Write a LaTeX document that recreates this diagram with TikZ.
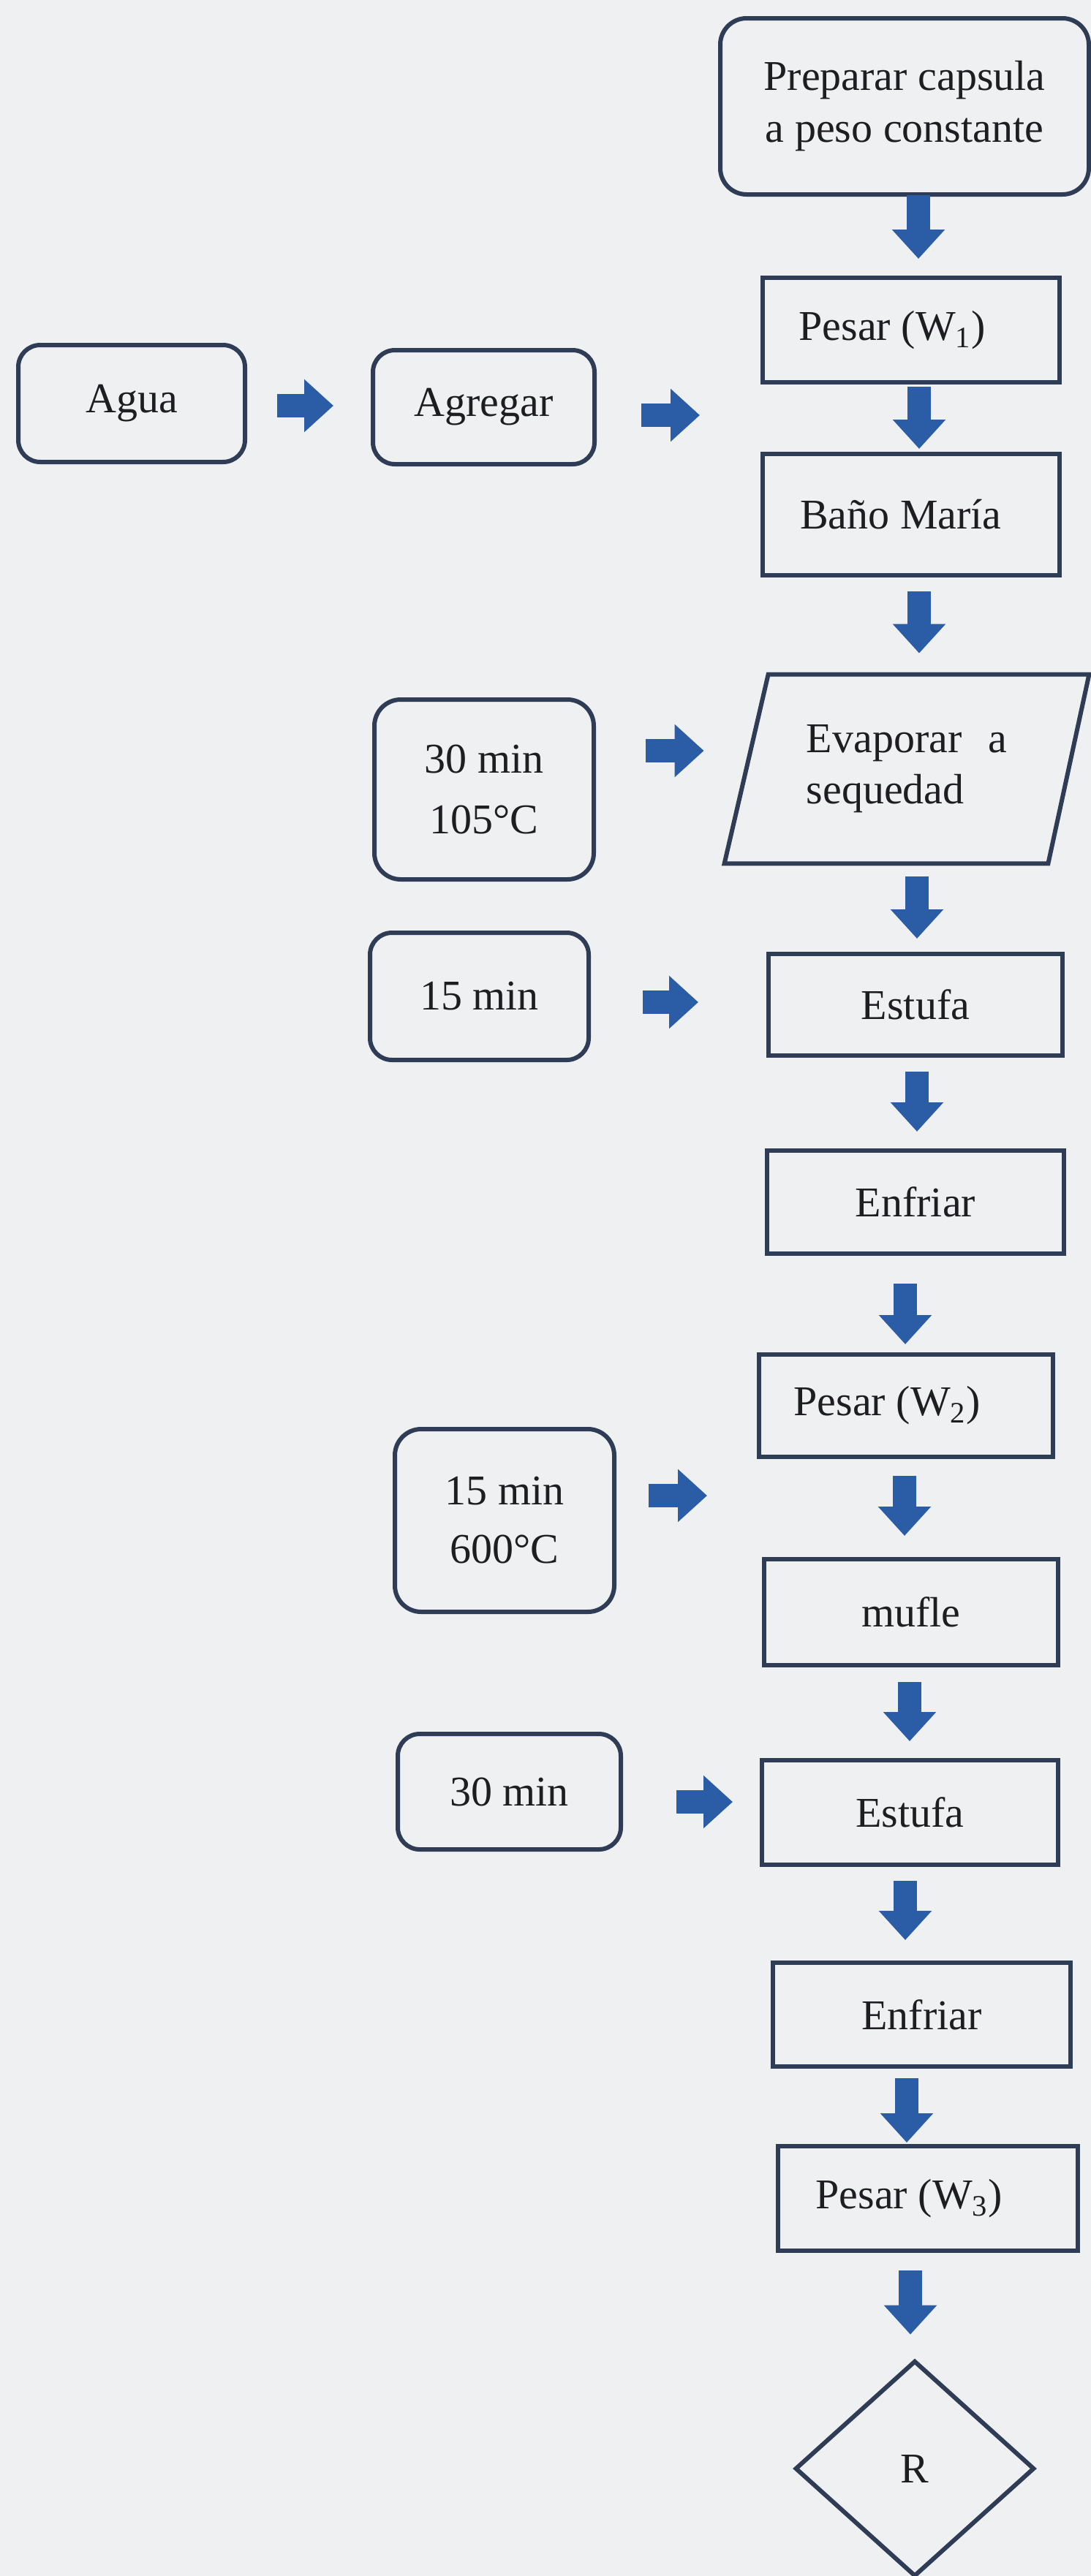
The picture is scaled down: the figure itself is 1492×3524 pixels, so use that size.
\documentclass[tikz,border=0pt]{standalone}
\usepackage{fontspec}
\setmainfont{Liberation Serif}
\usetikzlibrary{arrows.meta,calc}
\definecolor{bgc}{HTML}{EFF0F2}
\definecolor{edgec}{HTML}{2F3C55}
\definecolor{ablue}{HTML}{2B5CA6}
\definecolor{txtc}{HTML}{1E1E22}
\begin{document}
\begin{tikzpicture}[x=0.5pt,y=-0.5pt,
  every node/.style={font=\fontsize{29pt}{36pt}\selectfont, text=txtc},
  box/.style={draw=edgec, line width=3pt, inner sep=0pt, align=center},
  rbox/.style={box, rounded corners=15pt},
  ghost/.style={draw=none, inner sep=0pt, align=center},
  barrow/.style={draw=ablue, line width=16pt, -{Triangle[length=20pt 0, width=35pt 0]}}]
\fill[bgc] (0,0) rectangle (1492,3524);
\useasboundingbox (0,0) rectangle (1492,3524);

% right column
\node[rbox, rounded corners=18pt, minimum width=252pt, minimum height=120.5pt, font=\fontsize{29pt}{35.5pt}\selectfont] (prep) at (1237,145.5) {Preparar capsula\\a peso constante};
\node[box, minimum width=203pt, minimum height=71.5pt] (pes1) at (1246,451.5) {Pesar (W\textsubscript{1})\hspace*{26pt}};
\node[box, minimum width=203pt, minimum height=83pt] (bano) at (1246,704) {Baño María\hspace*{14pt}};
\node[ghost, minimum width=249pt, minimum height=129pt, align=left, font=\fontsize{29pt}{35pt}\selectfont] (evap) at (1240,1052) {Evaporar\hspace{0.37em} a\\sequedad};
\draw[draw=edgec, line width=3pt, line join=miter] ($(evap.north west)+(60,0)$) -- (evap.north east) -- ($(evap.south east)+(-56,0)$) -- (evap.south west) -- cycle;
\node[box, minimum width=201pt, minimum height=69.5pt] (est1) at (1252,1374.5) {Estufa};
\node[box, minimum width=203pt, minimum height=70.5pt] (enf1) at (1252,1644.5) {Enfriar};
\node[box, minimum width=201pt, minimum height=70pt] (pes2) at (1239,1923) {Pesar (W\textsubscript{2})\hspace*{26pt}};
\node[box, minimum width=201pt, minimum height=72.5pt] (mufle) at (1246,2205.5) {mufle};
\node[box, minimum width=202.5pt, minimum height=71.5pt] (est2) at (1244.5,2479.5) {Estufa};
\node[box, minimum width=203.5pt, minimum height=71pt] (enf2) at (1260.5,2756) {Enfriar};
\node[box, minimum width=205pt, minimum height=71.5pt] (pes3) at (1269,3007.5) {Pesar (W\textsubscript{3})\hspace*{26pt}};
\node[ghost, minimum width=162pt, minimum height=146pt] (R) at (1251,3377) {R};
\draw[draw=edgec, line width=3pt, line join=miter] (R.north) -- (R.east) -- (R.south) -- (R.west) -- cycle;

% left column
\node[rbox, minimum width=155pt, minimum height=80pt] (agua) at (180,552) {Agua};
\node[rbox, minimum width=151.5pt, minimum height=78pt] (agre) at (661.5,557) {Agregar};
\node[rbox, rounded corners=18pt, minimum width=150pt, minimum height=123pt, font=\fontsize{29pt}{41.5pt}\selectfont] (t30a) at (662,1080) {30 min\\105°C};
\node[rbox, minimum width=149.5pt, minimum height=87pt] (t15a) at (655.5,1363) {15 min};
\node[rbox, rounded corners=18pt, minimum width=150pt, minimum height=125pt, font=\fontsize{29pt}{40pt}\selectfont] (t15b) at (690,2080) {15 min\\600°C};
\node[rbox, minimum width=152.5pt, minimum height=79pt] (t30b) at (696.5,2451) {30 min};

\coordinate (gap1) at (957,568);
\coordinate (gap2) at (967,2046);

% down arrows
\draw[barrow] ($(prep.south)+(19,-2)$) -- ($(pes1.north)+(10,-23)$);
\draw[barrow] ($(pes1.south)+(11,3)$) -- ($(bano.north)+(11,-4)$);
\draw[barrow] ($(bano.south)+(11,19)$) -- ($(evap.north)+(17,-29)$);
\draw[barrow] ($(evap.south)+(14,18)$) -- ($(est1.north)+(2,-18)$);
\draw[barrow] ($(est1.south)+(2,19)$) -- ($(enf1.north)+(2,-23)$);
\draw[barrow] ($(enf1.south)+(-14,38)$) -- ($(pes2.north)+(-1,-11)$);
\draw[barrow] ($(pes2.south)+(-2,23)$) -- ($(mufle.north)+(-9,-29)$);
\draw[barrow] ($(mufle.south)+(-2,20)$) -- ($(est2.north)+(-0.5,-23)$);
\draw[barrow] ($(est2.south)+(-6.5,19)$) -- ($(enf2.north)+(-22.5,-28)$);
\draw[barrow] ($(enf2.south)+(-20.5,13)$) -- ($(pes3.north)+(-29,-2)$);
\draw[barrow] ($(pes3.south)+(-24,24)$) -- ($(R.north)+(-6,-37)$);

% right arrows
\draw[barrow] ($(agua.east)+(41,3)$) -- ($(agre.west)+(-51,-2)$);
\draw[barrow] ($(agre.east)+(61,11)$) -- (gap1);
\draw[barrow] ($(t30a.east)+(68,-53)$) -- ($(evap.west)+(-28,-25)$);
\draw[barrow] ($(t15a.east)+(71,8)$) -- ($(est1.west)+(-93,-3.5)$);
\draw[barrow] ($(t15b.east)+(44,-34)$) -- (gap2);
\draw[barrow] ($(t30b.east)+(73,14)$) -- ($(est2.west)+(-37,-14.5)$);
\end{tikzpicture}
\end{document}
